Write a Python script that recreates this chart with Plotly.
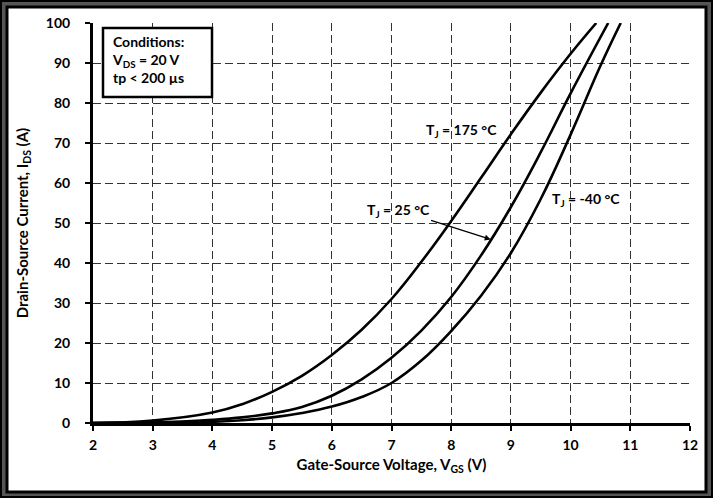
import plotly.graph_objects as go

# ---- data ----
vgs_175 = [2.0, 3.0, 4.0, 4.5, 5.0, 5.5, 6.0, 6.5, 7.0, 7.5, 8.0, 8.5, 9.0, 9.5, 10.0, 10.43]
ids_175 = [0.0, 0.6, 2.6, 4.7, 7.8, 11.8, 17.0, 23.3, 31.0, 40.3, 50.5, 61.3, 72.2, 82.6, 92.3, 100.0]

vgs_25 = [2.0, 3.0, 4.0, 4.5, 5.0, 5.5, 6.0, 6.5, 7.0, 7.5, 8.0, 8.5, 9.0, 9.5, 10.0, 10.63]
ids_25 = [0.0, 0.1, 0.8, 1.4, 2.4, 4.0, 6.8, 10.9, 16.3, 23.1, 31.5, 41.9, 54.0, 67.7, 82.4, 100.0]

vgs_m40 = [2.0, 3.0, 4.0, 4.5, 5.0, 5.5, 6.0, 6.5, 7.0, 7.5, 8.0, 8.5, 9.0, 9.5, 10.0, 10.5, 10.84]
ids_m40 = [0.0, 0.02, 0.3, 0.7, 1.4, 2.5, 4.1, 6.5, 10.0, 15.6, 23.0, 31.8, 42.5, 56.0, 72.1, 89.3, 100.0]

x_ticks = list(range(2, 13))
y_ticks = list(range(0, 101, 10))

FONT = "Lato"

# plot area in pixels
L, R, T, B = 93, 690, 23, 423
W, H = 713, 498


def px_x(px):
    return (px - L) / (R - L)


def px_y(py):
    return (B - py) / (B - T)


fig = go.Figure()
for xs, ys in [(vgs_175, ids_175), (vgs_25, ids_25), (vgs_m40, ids_m40)]:
    fig.add_trace(go.Scatter(x=xs, y=ys, mode="lines",
                             line=dict(color="black", width=2.6, shape="spline", smoothing=1.2),
                             showlegend=False, hoverinfo="skip"))

axis_common = dict(
    showgrid=True, gridcolor="#333333", gridwidth=1, griddash="8px,4px",
    showline=True, linecolor="black", linewidth=3,
    ticks="outside", ticklen=5, tickwidth=2, tickcolor="black",
    tickfont=dict(family=FONT, size=14, color="black", weight="bold"),
    zeroline=False,
)

fig.update_layout(
    width=W, height=H, autosize=False,
    margin=dict(l=L, r=W - R, t=T, b=H - B, pad=0),
    paper_bgcolor="white", plot_bgcolor="white",
    xaxis=dict(range=[2, 12], tickvals=x_ticks, ticklabelstandoff=2,
               title=dict(text="Gate-Source Voltage, V<sub>GS</sub> (V)", standoff=8,
                          font=dict(family=FONT, size=15, color="black", weight="bold")),
               **axis_common),
    yaxis=dict(range=[0, 100], tickvals=y_ticks, ticklabelstandoff=12,
               title=dict(text="Drain-Source Current, I<sub>DS</sub> (A)", standoff=14,
                          font=dict(family=FONT, size=15, color="black", weight="bold")),
               **axis_common),
)

shapes = [
    # outer frame
    dict(type="rect", xref="paper", yref="paper", layer="below",
         x0=px_x(1), x1=px_x(712), y0=px_y(497), y1=px_y(1),
         line=dict(color="black", width=2), fillcolor="#555555"),
    dict(type="rect", xref="paper", yref="paper", layer="below",
         x0=px_x(7), x1=px_x(706), y0=px_y(492), y1=px_y(7),
         line=dict(color="black", width=3), fillcolor="white"),
    # conditions box
    dict(type="rect", xref="paper", yref="paper", layer="above",
         x0=px_x(103), x1=px_x(212), y0=px_y(97), y1=px_y(28),
         line=dict(color="black", width=2.5), fillcolor="white"),
]
fig.update_layout(shapes=shapes)

lab_font = dict(family=FONT, size=14, color="black", weight="bold")
annotations = [
    dict(xref="paper", yref="paper", x=px_x(110), y=px_y(31), xanchor="left", yanchor="top",
         align="left", showarrow=False, font=lab_font,
         text="Conditions:<br>V<sub>DS</sub> = 20 V<br>tp &lt; 200 µs"),
    dict(xref="x", yref="y", x=8.18, y=73.25, showarrow=False, font=lab_font,
         text="T<sub>J</sub> = 175 °C"),
    dict(xref="x", yref="y", x=10.25, y=55.9, showarrow=False, font=lab_font,
         text="T<sub>J</sub> = -40 °C"),
    dict(xref="x", yref="y", x=8.66, y=45.9, axref="x", ayref="y", ax=7.11, ay=53.25,
         showarrow=True, arrowhead=2, arrowsize=0.9, arrowwidth=1.3, arrowcolor="black",
         font=lab_font, text="T<sub>J</sub> = 25 °C"),
]
fig.update_layout(annotations=annotations)

fig.write_html("out.html", config={"displayModeBar": False},
               post_script="document.body.style.margin='0px';document.body.style.overflow='hidden';")
